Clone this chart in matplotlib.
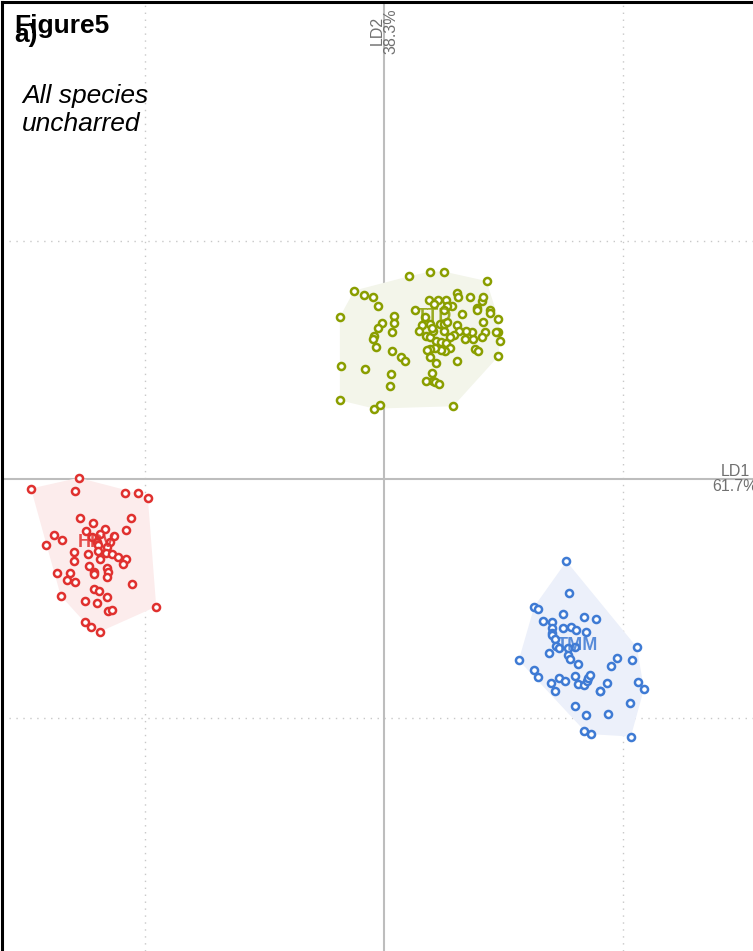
import numpy as np
import matplotlib
matplotlib.use('Agg')
import matplotlib.pyplot as plt

plt.rcParams['font.family'] = ['Liberation Sans', 'DejaVu Sans']

# LD scores (LD1, LD2)
ttd_x = [0.21, 0.39, 0.50, 0.86, -0.25, -0.17, -0.09, -0.05, -0.37, 0.08, 0.08, -0.02,
         -0.05, -0.08, -0.09, -0.07, 0.07, 0.07, 0.14, 0.18, -0.36, -0.16, 0.06, 0.05,
         -0.37, -0.08, -0.03, 0.58, 0.96, 0.97, 0.96, 0.96, 0.89, 0.89, 0.82, 0.83,
         0.72, 0.61, 0.62, 0.52, 0.45, 0.38, 0.42, 0.57, 0.53, 0.50, 0.26, 0.34,
         0.65, 0.78, 0.78, 0.83, 0.85, 0.94, 0.82, 0.75, 0.74, 0.69, 0.68, 0.61,
         0.63, 0.59, 0.55, 0.50, 0.47, 0.50, 0.53, 0.39, 0.32, 0.29, 0.35, 0.39,
         0.41, 0.40, 0.44, 0.48, 0.52, 0.55, 0.51, 0.48, 0.43, 0.39, 0.36, 0.39,
         0.44, 0.61, 0.76, 0.79, 0.40, 0.35, 0.41, 0.43, 0.46]
ttd_y = [1.70, 1.74, 1.74, 1.66, 1.58, 1.54, 1.53, 1.45, 1.36, 1.37, 1.31, 1.31,
         1.27, 1.20, 1.17, 1.11, 1.23, 1.07, 1.02, 0.99, 0.95, 0.92, 0.88, 0.78,
         0.66, 0.59, 0.62, 0.61, 1.03, 1.16, 1.23, 1.34, 1.42, 1.39, 1.49, 1.53,
         1.53, 1.56, 1.53, 1.50, 1.50, 1.50, 1.47, 1.45, 1.45, 1.42, 1.42, 1.36,
         1.38, 1.43, 1.42, 1.32, 1.23, 1.23, 1.19, 1.17, 1.23, 1.24, 1.17, 1.29,
         1.24, 1.21, 1.19, 1.24, 1.30, 1.30, 1.32, 1.30, 1.29, 1.24, 1.20, 1.19,
         1.24, 1.27, 1.16, 1.15, 1.14, 1.10, 1.07, 1.08, 1.10, 1.09, 1.08, 1.02,
         0.97, 0.99, 1.09, 1.07, 0.89, 0.82, 0.82, 0.81, 0.80]

hpv_x = [-2.56, -2.96, -2.59, -2.17, -2.06, -1.98, -2.55, -2.44, -2.12, -2.16, -2.34,
         -2.50, -2.38, -2.45, -2.26, -2.77, -2.70, -2.83, -2.41, -2.30, -2.40, -2.32,
         -2.40, -2.60, -2.33, -2.48, -2.28, -2.23, -2.16, -2.19, -2.60, -2.38, -2.47,
         -2.32, -2.43, -2.43, -2.31, -2.32, -2.74, -2.63, -2.66, -2.59, -2.11, -2.43,
         -2.39, -2.71, -2.51, -2.32, -2.41, -2.31, -2.28, -1.91, -2.51, -2.46, -2.38]
hpv_y = [0.01, -0.08, -0.10, -0.12, -0.12, -0.16, -0.33, -0.37, -0.33, -0.43, -0.42,
         -0.44, -0.46, -0.49, -0.48, -0.47, -0.51, -0.55, -0.53, -0.53, -0.55, -0.57,
         -0.60, -0.61, -0.62, -0.63, -0.63, -0.65, -0.67, -0.71, -0.69, -0.67, -0.73,
         -0.75, -0.78, -0.80, -0.78, -0.82, -0.79, -0.79, -0.85, -0.86, -0.88, -0.92,
         -0.94, -0.98, -1.02, -0.99, -1.04, -1.11, -1.10, -1.07, -1.20, -1.24, -1.28]

tmm_x = [1.53, 1.55, 1.26, 1.29, 1.50, 1.33, 1.41, 1.68, 1.78, 1.41, 1.50, 1.57,
         1.61, 1.69, 1.41, 1.41, 1.43, 1.44, 1.47, 1.54, 1.60, 1.38, 1.54, 1.56,
         1.63, 1.13, 1.26, 1.29, 1.47, 1.52, 1.40, 1.43, 1.60, 1.63, 1.68, 1.70,
         1.71, 1.73, 1.87, 1.81, 1.81, 1.90, 1.95, 2.08, 2.12, 2.13, 2.18, 2.06,
         1.60, 1.69, 1.88, 1.68, 1.74, 2.07]
tmm_y = [-0.69, -0.96, -1.07, -1.09, -1.13, -1.19, -1.20, -1.16, -1.17, -1.25, -1.25,
         -1.24, -1.27, -1.28, -1.29, -1.31, -1.34, -1.40, -1.42, -1.42, -1.41, -1.46,
         -1.48, -1.51, -1.55, -1.52, -1.60, -1.66, -1.67, -1.69, -1.71, -1.78, -1.65,
         -1.72, -1.73, -1.69, -1.67, -1.64, -1.71, -1.78, -1.78, -1.57, -1.50, -1.52,
         -1.41, -1.70, -1.76, -1.88, -1.90, -1.98, -1.97, -2.11, -2.14, -2.16]

groups = ['TTD', 'HPV', 'TMM']
label_x = [0.42, -2.41, 1.62]
label_y = [1.36, -0.53, -1.40]
colors = ['#8a9e00', '#e0312f', '#3f7bd4']
fills = ['#f3f5ea', '#fcecec', '#ecf0fa']


def convex_hull(px, py):
    pts = sorted(set(zip(px, py)))

    def cross(o, a, b):
        return (a[0] - o[0]) * (b[1] - o[1]) - (a[1] - o[1]) * (b[0] - o[0])

    lower = []
    for p in pts:
        while len(lower) >= 2 and cross(lower[-2], lower[-1], p) <= 0:
            lower.pop()
        lower.append(p)
    upper = []
    for p in reversed(pts):
        while len(upper) >= 2 and cross(upper[-2], upper[-1], p) <= 0:
            upper.pop()
        upper.append(p)
    return np.array(lower[:-1] + upper[:-1])


fig = plt.figure(figsize=(7.53, 9.51), dpi=100)
ax = fig.add_axes([2 / 753, 0, 1.0, 1 - 2 / 951])
ax.set_xlim(-3.203, 3.111)
ax.set_ylim(-3.958, 4.0)

# grid and axes lines
for g in [-2, 2]:
    ax.axvline(g, color='#c8c8c8', lw=1.0, ls=(0, (1, 4)), zorder=0)
    ax.axhline(g, color='#c8c8c8', lw=1.0, ls=(0, (1, 4)), zorder=0)
ax.axvline(0, color='#bdbdbd', lw=1.5, zorder=1)
ax.axhline(0, color='#bdbdbd', lw=1.5, zorder=1)

data = [(ttd_x, ttd_y), (hpv_x, hpv_y), (tmm_x, tmm_y)]
for (gx, gy), name, c, fc, lx, ly in zip(data, groups, colors, fills, label_x, label_y):
    hull = convex_hull(gx, gy)
    ax.fill(hull[:, 0], hull[:, 1], color=fc, lw=0, zorder=2)
    ax.scatter(gx, gy, s=26, facecolor='white', edgecolor=c, linewidth=1.8, zorder=3)
    ax.text(lx, ly, name, color=c, fontsize=13, fontweight='bold', alpha=0.85,
            ha='center', va='center', zorder=4)

ax.text(0, 3.95, 'LD2\n38.3%', rotation=90, ha='center', va='top', color='#707070',
        fontsize=11.5, multialignment='center', linespacing=0.95)
ax.text(3.136, 0, 'LD1\n61.7%', ha='right', va='center', color='#707070',
        fontsize=11.5, multialignment='center', linespacing=0.95)

ax.set_xticks([])
ax.set_yticks([])
ax.spines['right'].set_visible(False)
ax.spines['bottom'].set_visible(False)
ax.spines['left'].set_linewidth(2.2)
ax.spines['top'].set_linewidth(2.2)

fig.text(14 / 753, 1 - 33 / 951, 'Figure5', fontsize=19, fontweight='bold', ha='left', va='baseline')
fig.text(14 / 753, 1 - 42 / 951, 'a)', fontsize=19, fontweight='bold', ha='left', va='baseline')
fig.text(22 / 753, 1 - 103 / 951, 'All species', fontsize=19, style='italic', ha='left', va='baseline')
fig.text(22 / 753, 1 - 131 / 951, 'uncharred', fontsize=19, style='italic', ha='left', va='baseline')

fig.savefig('out.png', dpi=100)
